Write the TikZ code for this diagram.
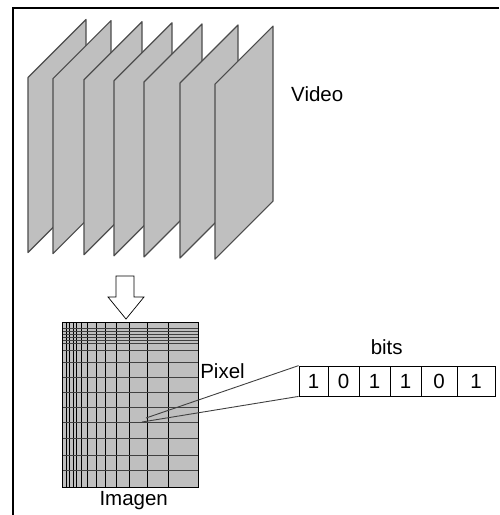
\documentclass[tikz,border=0pt]{standalone}
\usepackage{fontspec}
\setmainfont{Liberation Sans}

\begin{document}
\begin{tikzpicture}[
    x=1pt, y=-1pt,
    outer/.style={line width=1.6pt},
    plane/.style={fill=black!25, draw=black!70, line width=1.2pt, line join=round},
    txt/.style={font=\fontsize{20.5}{23}\selectfont, inner sep=0pt, anchor=base},
    bit/.style={draw, line width=0.8pt, minimum height=30pt, inner sep=0pt, font=\fontsize{20.5}{23}\selectfont},
    vline/.style={line width=0.9pt},
    hline/.style={draw=black!75, line width=0.9pt},
    link/.style={draw=black!75, line width=0.9pt}
]
    \useasboundingbox (0,0) rectangle (499,515);

    % === FRAME ===
    \draw[outer] (499,8) -- (13,8) -- (13,515);

    % === VIDEO FRAMES ===
    \foreach \x [count=\i] in {28,53,84,114,144,180,215} {
        \pgfmathsetmacro{\t}{77.5+1.1*(\i-1)}
        \draw[plane] (\x,\t) -- ++(58,-58) -- ++(0,175) -- ++(-58,58) -- cycle;
    }
    \node[txt, anchor=base west] (video) at (291,101.5) {Video};

    % === DOWN ARROW ===
    \draw[fill=white, line width=0.7pt] (116,276) -- (134,276) -- (134,297) -- (144,297)
        -- (126,319) -- (108,297) -- (116,297) -- cycle;

    % === IMAGE GRID ===
    \fill[black!25] (62,322) rectangle (198,487);
    \foreach \x in {66,69,73,76,81,87,96,105,116,129,147,168}
        \draw[vline] (\x,322) -- (\x,487);
    \foreach \y in {328,331,334,337,340,343,350,362,377,392,407,422,438,455,470}
        \draw[hline] (62,\y) -- (198,\y);
    \draw[line width=1pt] (62,322) rectangle (198,487);
    \node[txt] (imagen) at (133.7,505.7) {Imagen};

    % === PIXEL ===
    \coordinate (px1) at (146,418);
    \coordinate (px2) at (142,422);
    \node[txt] (pixel) at (222.5,378.3) {Pixel};

    % === BITS ===
    \foreach \d/\c/\w [count=\i] in {1/313.5/29, 0/343.5/31, 1/374.5/31, 1/405.5/31, 0/439/36, 1/476/38}
        \node[bit, minimum width=\w pt] (b\i) at (\c,381) {\d};
    \node[txt] (bits) at (386.7,354) {bits};

    \draw[link] (px1) -- (b1.north west);
    \draw[link] (px2) -- (b1.south west);

\end{tikzpicture}
\end{document}
